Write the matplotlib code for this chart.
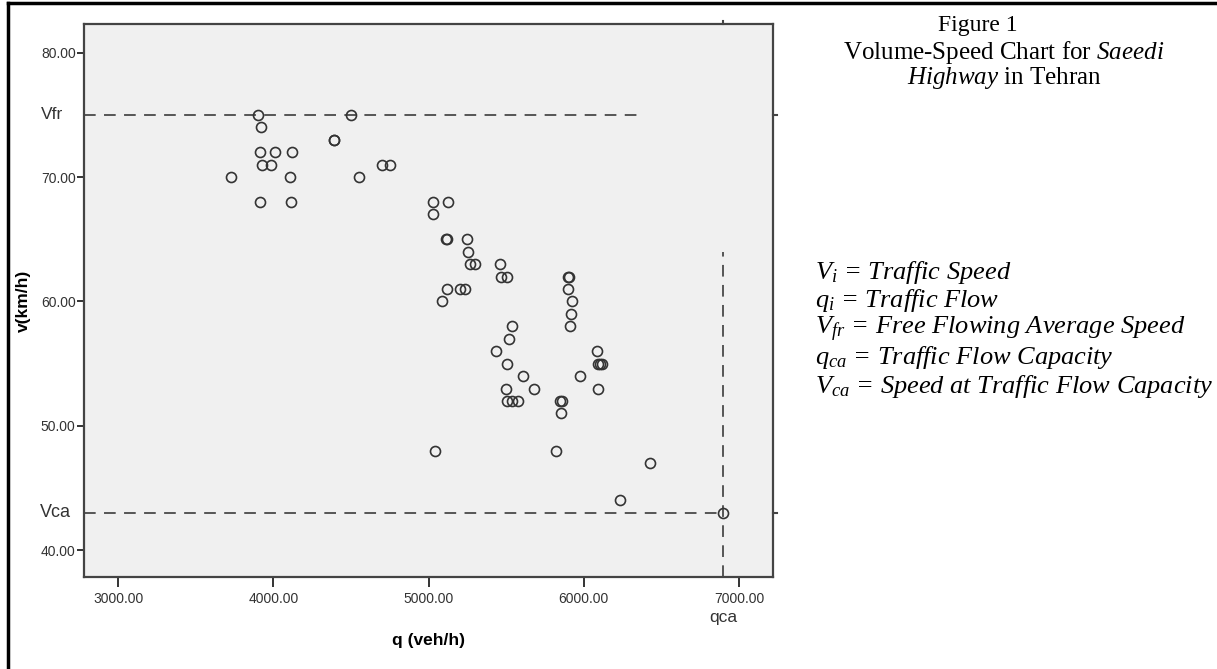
import matplotlib
matplotlib.use("Agg")
import matplotlib.pyplot as plt
from matplotlib.lines import Line2D

plt.rcParams['mathtext.fontset'] = 'custom'
plt.rcParams['mathtext.rm'] = 'Liberation Serif'
plt.rcParams['mathtext.it'] = 'Liberation Serif:italic'

# ---- data ----
q_values = [3900, 4500, 3920, 4390, 4390, 3910, 4010, 4120, 3925, 3985, 4700, 4750,
            3725, 4105, 4550, 3915, 4110, 5030, 5125, 5030, 5110, 5120, 5250, 5255,
            5265, 5300, 5460, 5465, 5505, 5900, 5905, 5120, 5200, 5235, 5895, 5085,
            5925, 5915, 5535, 5910, 5515, 5435, 6088, 5505, 6090, 6103, 6115, 5605,
            5975, 5500, 5680, 6093, 5505, 5540, 5575, 5845, 5862, 5852, 5040, 5822,
            6428, 6232, 6900]
v_values = [75, 75, 74, 73, 73, 72, 72, 72, 71, 71, 71, 71,
            70, 70, 70, 68, 68, 68, 68, 67, 65, 65, 65, 64,
            63, 63, 63, 62, 62, 62, 62, 61, 61, 61, 61, 60,
            60, 59, 58, 58, 57, 56, 56, 55, 55, 55, 55, 54,
            54, 53, 53, 53, 52, 52, 52, 52, 52, 51, 48, 48,
            47, 44, 43]
v_fr = 75
v_ca = 43
q_ca = 6900
vfr_line_end = 6350
qca_line_top = 64
x_ticks = [3000, 4000, 5000, 6000, 7000]
y_ticks = [40, 50, 60, 70, 80]

legend_lines = [r'$V_i$ = Traffic Speed',
                r'$q_i$ = Traffic Flow',
                r'$V_{fr}$ = Free Flowing Average Speed',
                r'$q_{ca}$ = Traffic Flow Capacity',
                r'$V_{ca}$ = Speed at Traffic Flow Capacity']

W, H = 1217, 669
fig = plt.figure(figsize=(W / 100, H / 100), dpi=100)
fig.patch.set_facecolor('white')

def fx(px):
    return px / W

def fy(py):
    return 1 - py / H

ax = fig.add_axes([fx(84), fy(577), fx(773) - fx(84), fy(24) - fy(577)])
ax.set_facecolor('#f0f0f0')
ax.set_xlim(2779, 7219)
ax.set_ylim(37.85, 82.3)

for s in ax.spines.values():
    s.set_color('#444444')
    s.set_linewidth(1.6)

dash = (0, (6, 4.3))
lc = '#555555'
ax.plot([ax.get_xlim()[0], vfr_line_end], [v_fr, v_fr], color=lc, lw=1.4, linestyle=dash, zorder=2)
ax.plot([ax.get_xlim()[0], q_ca], [v_ca, v_ca], color=lc, lw=1.4, linestyle=dash, zorder=2)
ax.plot([q_ca, q_ca], [ax.get_ylim()[0], qca_line_top], color=lc, lw=1.4, linestyle=dash, zorder=2)

ax.plot(q_values, v_values, linestyle='none', marker='o', markersize=7.2,
        markerfacecolor='none', markeredgecolor='#333333', markeredgewidth=1.2, zorder=3)

ax.set_xticks(x_ticks)
ax.set_xticklabels([f'{t:.2f}' for t in x_ticks])
ax.set_yticks(y_ticks)
ax.set_yticklabels([f'{t:.2f}' for t in y_ticks])
ax.tick_params(axis='both', direction='out', width=1.4, color='#333333',
               labelsize=10, labelcolor='#333333')
ax.tick_params(axis='y', length=5, pad=1)
ax.tick_params(axis='x', length=7.5, pad=3)
for lab in ax.get_xticklabels() + ax.get_yticklabels():
    lab.set_family('Liberation Sans')

# reference-line labels on axes
ax.text(-0.030, v_fr, 'Vfr', transform=ax.get_yaxis_transform(), ha='right', va='center',
        fontsize=12.5, color='#333333', family='Liberation Sans')
ax.text(-0.019, v_ca, 'Vca', transform=ax.get_yaxis_transform(), ha='right', va='center',
        fontsize=13, color='#333333', family='Liberation Sans')
ax.text(q_ca, -0.060, 'qca', transform=ax.get_xaxis_transform(), ha='center', va='top',
        fontsize=12.5, color='#333333', family='Liberation Sans')

ax.set_xlabel('q (veh/h)', fontsize=12.5, fontweight='bold', family='Liberation Sans', labelpad=20)
ax.set_ylabel('v(km/h)', fontsize=12.5, fontweight='bold', family='Liberation Sans', labelpad=7)

# small marks on the opposite spines for the reference lines
ax.plot([1.0, 1.006], [v_fr, v_fr], transform=ax.get_yaxis_transform(), color='#444444', lw=1.5, clip_on=False)
ax.plot([1.0, 1.006], [v_ca, v_ca], transform=ax.get_yaxis_transform(), color='#444444', lw=1.5, clip_on=False)
ax.plot([q_ca, q_ca], [1.0, 1.006], transform=ax.get_xaxis_transform(), color='#444444', lw=1.5, clip_on=False)

# outer border (top and left)
fig.add_artist(Line2D([fx(8), 1.0], [fy(3), fy(3)], color='black', lw=2.5))
fig.add_artist(Line2D([fx(8), fx(8)], [fy(3), 0.0], color='black', lw=2.5))

# title block
fig.text(fx(978), fy(25), 'Figure 1', ha='center', va='center', fontsize=17,
         family='Liberation Serif')
fig.text(fx(1004), fy(52), 'Volume-Speed Chart for $\\mathit{Saeedi}$', ha='center', va='center',
         fontsize=18, family='Liberation Serif')
fig.text(fx(1004), fy(78), '$\\mathit{Highway}$ in Tehran', ha='center', va='center',
         fontsize=18, family='Liberation Serif')

for i, line in enumerate(legend_lines):
    fig.text(fx(815), fy(272 + i * 28.5), line, ha='left', va='center', fontsize=19,
             family='Liberation Serif', style='italic')

fig.savefig('out.png', dpi=100)
